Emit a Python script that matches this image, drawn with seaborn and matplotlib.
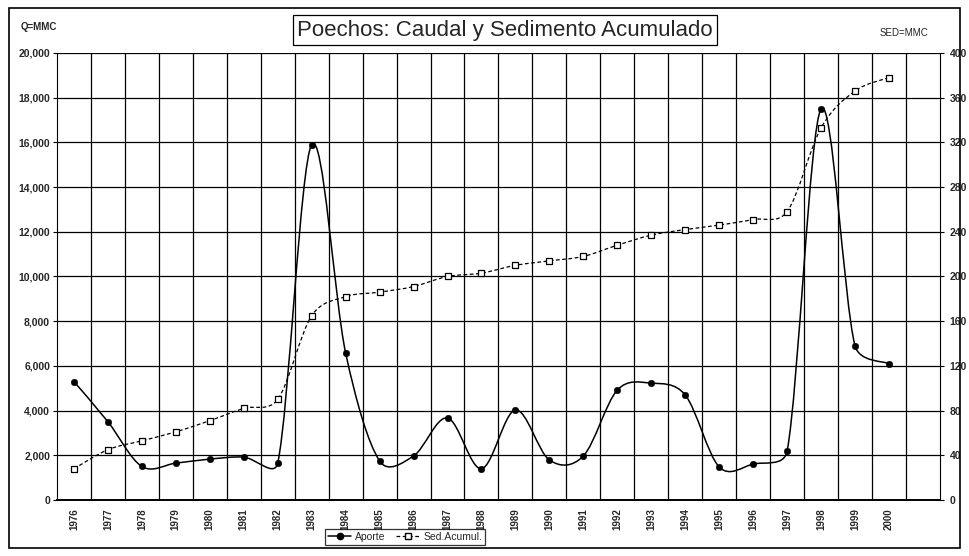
import matplotlib
matplotlib.use("Agg")
import matplotlib.pyplot as plt
from matplotlib.path import Path
from matplotlib.patches import PathPatch, Rectangle
from matplotlib.lines import Line2D
import seaborn as sns
import numpy as np

sns.set_style("white")
plt.rcParams['font.family'] = ['Liberation Sans', 'DejaVu Sans']

years = [str(y) for y in range(1976, 2001)]
aporte = [5300, 3500, 1500, 1650, 1830, 1920, 1650, 15900, 6580, 1750, 1970,
          3670, 1400, 4030, 1790, 1970, 4920, 5230, 4700, 1480, 1610, 2190,
          17500, 6900, 6100]
sed_acum = [28, 45, 53, 61, 71, 82, 90, 165, 182, 186, 191, 200, 203, 210,
            214, 218, 228, 237, 242, 246, 251, 258, 333, 366, 378]

x = np.arange(len(years))


def smooth_path(a, xs, ys, clamp=0.45):
    # smoothed line like Excel: Catmull-Rom tangents (computed in pixels),
    # limited by the neighbouring segment length, drawn as cubic Beziers
    pts = a.transData.transform(np.column_stack([xs, ys]).astype(float))
    n = len(pts)
    verts = [pts[0]]
    codes = [Path.MOVETO]
    for i in range(n - 1):
        p0 = pts[max(i - 1, 0)]
        p1, p2 = pts[i], pts[i + 1]
        p3 = pts[min(i + 2, n - 1)]
        seg = np.linalg.norm(p2 - p1)
        t1 = (p2 - p0) / 6
        t2 = (p3 - p1) / 6
        for t in (t1, t2):
            m = np.linalg.norm(t)
            if m > clamp * seg and m > 0:
                t *= clamp * seg / m
        verts += [p1 + t1, p2 - t2, p2]
        codes += [Path.CURVE4] * 3
    verts = a.transData.inverted().transform(np.array(verts))
    return Path(verts, codes)


fig = plt.figure(figsize=(9.69, 5.56), dpi=100)
ax = fig.add_axes([0.0588, 0.1007, 0.9112, 0.804])
ax2 = ax.twinx()

ax.set_xlim(-0.5, len(years) + 0.5)
ax.set_ylim(0, 20000)
ax2.set_ylim(0, 400)

ax.add_patch(PathPatch(smooth_path(ax, x, aporte), fill=False, color='black', lw=1.1, zorder=3))
sns.scatterplot(x=x, y=aporte, ax=ax, color='black', marker='o', s=22,
                edgecolor='black', zorder=4, legend=False)

ax2.add_patch(PathPatch(smooth_path(ax2, x, sed_acum), fill=False, color='black', lw=0.9,
                        linestyle=(0, (3, 2)), zorder=3))
sns.scatterplot(x=x, y=sed_acum, ax=ax2, color='white', marker='s', s=18,
                edgecolor='black', linewidth=0.9, zorder=4, legend=False)

# grid
for yv in range(2000, 20001, 2000):
    ax.axhline(yv, color='black', lw=0.9, zorder=1)
for xv in np.arange(0.5, len(years) + 0.5, 1):
    ax.axvline(xv, color='black', lw=0.9, zorder=1)

ax.set_xticks(x)
ax.set_xticklabels(years, rotation=90, fontsize=7, fontweight='bold')
ax.set_xticks(np.arange(-0.5, len(years) + 1, 1), minor=True)
ax.tick_params(axis='x', which='major', length=0, pad=6)
ax.tick_params(axis='x', which='minor', length=4, width=0.8, direction='out', color='black')

ax.set_yticks(range(0, 20001, 2000))
ax.set_yticklabels([f"{v:,}" for v in range(0, 20001, 2000)], fontsize=7.5, fontweight='bold')
ax.tick_params(axis='y', length=3, direction='out', color='black', pad=2, left=True)
ax2.set_yticks(range(0, 401, 40))
ax2.set_yticklabels([str(v) for v in range(0, 401, 40)], fontsize=7.5, fontweight='bold')
ax2.tick_params(axis='y', length=3, direction='out', color='black', pad=4, right=True)

for a in (ax, ax2):
    for s in a.spines.values():
        s.set_visible(False)
ax.spines['bottom'].set_visible(True)
ax.spines['bottom'].set_linewidth(1.4)
ax.spines['bottom'].set_color('black')
ax.spines['left'].set_visible(True)
ax.spines['left'].set_color('black')
ax2.spines['right'].set_visible(True)
ax2.spines['right'].set_color('black')
ax.grid(False)
ax2.grid(False)

# outer frame
fig.patches.append(Rectangle((0.009, 0.014), 0.982, 0.972, transform=fig.transFigure,
                             fill=False, edgecolor='black', lw=1.2))

fig.text(0.521, 0.946, "Poechos: Caudal y Sedimento Acumulado", ha='center', va='center',
         fontsize=16, bbox=dict(boxstyle='square,pad=0.2', fc='white', ec='black', lw=0.9))
fig.text(0.021, 0.952, "Q=MMC", fontsize=7, fontweight='bold', ha='left', va='center')
fig.text(0.908, 0.94, "SED=MMC", fontsize=7, ha='left', va='center')

handles = [Line2D([], [], color='black', marker='o', markersize=4.5, lw=1.1),
           Line2D([], [], color='black', marker='s', markersize=4, markerfacecolor='white',
                  lw=0.9, linestyle=(0, (3, 2)))]
leg = fig.legend(handles, ['Aporte', 'Sed.Acumul.'], loc='center', ncol=2,
                 bbox_to_anchor=(0.418, 0.034), fontsize=7.5, frameon=True, fancybox=False,
                 handlelength=2.2, columnspacing=1.0, borderpad=0.3, handletextpad=0.4)
leg.get_frame().set_edgecolor('black')
leg.get_frame().set_linewidth(0.9)

fig.savefig("out.png", dpi=100)
